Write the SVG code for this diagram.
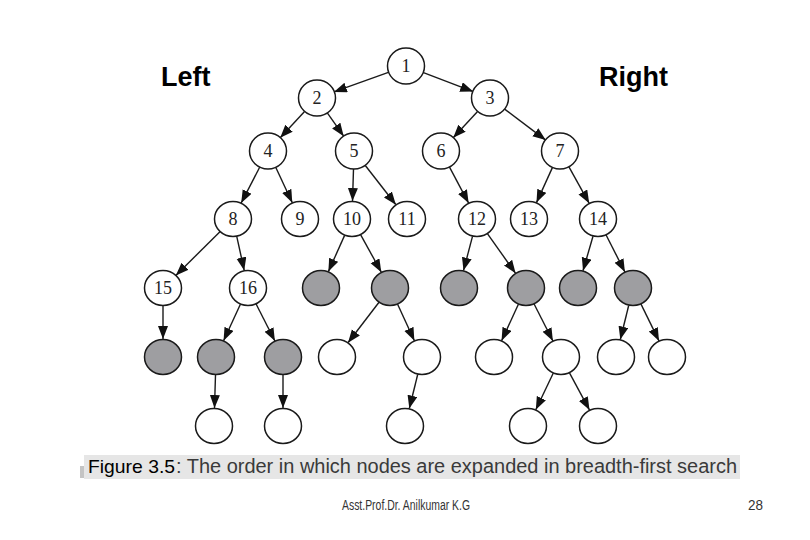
<svg xmlns="http://www.w3.org/2000/svg" width="810" height="540" viewBox="0 0 810 540">
<style>
.n ellipse{stroke:#1a1a1a;stroke-width:1.5;fill:#fff}
.n.g ellipse{fill:#9e9ea1}
.n text{font-family:"Liberation Serif","Times New Roman",serif;font-size:18px;fill:#222;text-anchor:middle}
#edges line{stroke:#1a1a1a;stroke-width:1.4;marker-end:url(#ah)}
.side{font-family:"Liberation Sans",Arial,sans-serif;font-weight:bold;font-size:27px;fill:#000}
.foot{font-family:"Liberation Sans",Arial,sans-serif;font-size:14px;fill:#333}
</style>
<defs>
<marker id="ah" markerUnits="userSpaceOnUse" markerWidth="14" markerHeight="11" refX="13" refY="5" orient="auto">
<path d="M0,0 L13,5 L0,10 z" fill="#111"/>
</marker>
</defs>
<rect width="810" height="540" fill="#fff"/>
<text class="side" x="161" y="86">Left</text>
<text class="side" x="599" y="86">Right</text>
<g id="edges">
<line x1="389.1" y1="72.1" x2="333.9" y2="91.9"/>
<line x1="422.8" y1="72.4" x2="473.2" y2="91.6"/>
<line x1="304.8" y1="111.2" x2="280.2" y2="137.8"/>
<line x1="327.3" y1="112.8" x2="343.7" y2="136.2"/>
<line x1="477.8" y1="111.2" x2="453.2" y2="137.8"/>
<line x1="504.3" y1="108.9" x2="545.7" y2="140.1"/>
<line x1="259.8" y1="167.0" x2="241.2" y2="203.0"/>
<line x1="275.7" y1="167.3" x2="292.3" y2="202.7"/>
<line x1="353.5" y1="169" x2="352.5" y2="201"/>
<line x1="365.1" y1="165.2" x2="395.9" y2="204.8"/>
<line x1="449.4" y1="166.9" x2="468.6" y2="203.1"/>
<line x1="552.5" y1="167.4" x2="536.5" y2="202.6"/>
<line x1="568.8" y1="166.7" x2="589.2" y2="203.3"/>
<line x1="220.2" y1="231.6" x2="175.8" y2="275.4"/>
<line x1="236.8" y1="236.6" x2="244.2" y2="270.4"/>
<line x1="344.6" y1="235.4" x2="328.4" y2="271.6"/>
<line x1="360.7" y1="234.8" x2="381.3" y2="272.2"/>
<line x1="472.5" y1="236.4" x2="463.5" y2="270.6"/>
<line x1="487.4" y1="233.7" x2="515.6" y2="273.3"/>
<line x1="593" y1="236.3" x2="583" y2="270.7"/>
<line x1="606.1" y1="235.0" x2="624.9" y2="272.0"/>
<line x1="163" y1="306" x2="163" y2="339"/>
<line x1="240.4" y1="304.3" x2="223.6" y2="340.7"/>
<line x1="256.1" y1="304.0" x2="274.9" y2="341.0"/>
<line x1="379" y1="302.3" x2="348" y2="342.7"/>
<line x1="397.6" y1="304.3" x2="414.4" y2="340.7"/>
<line x1="518.4" y1="304.3" x2="501.6" y2="340.7"/>
<line x1="534.1" y1="304.0" x2="552.9" y2="341.0"/>
<line x1="628.7" y1="305.5" x2="620.3" y2="339.5"/>
<line x1="641" y1="304.1" x2="659" y2="340.9"/>
<line x1="215.5" y1="375" x2="214.5" y2="408"/>
<line x1="283" y1="375" x2="283" y2="408"/>
<line x1="417.7" y1="374.5" x2="409.3" y2="408.5"/>
<line x1="553.2" y1="373.2" x2="535.8" y2="409.8"/>
<line x1="569.5" y1="372.9" x2="589.5" y2="410.1"/>
</g>
<g id="n1" class="n"><ellipse cx="406" cy="66" rx="18.5" ry="18"/><text x="406" y="72">1</text></g>
<g id="n2" class="n"><ellipse cx="317" cy="98" rx="18.5" ry="18"/><text x="317" y="104">2</text></g>
<g id="n3" class="n"><ellipse cx="490" cy="98" rx="18.5" ry="18"/><text x="490" y="104">3</text></g>
<g id="n4" class="n"><ellipse cx="268" cy="151" rx="18.5" ry="18"/><text x="268" y="157">4</text></g>
<g id="n5" class="n"><ellipse cx="354" cy="151" rx="18.5" ry="18"/><text x="354" y="157">5</text></g>
<g id="n6" class="n"><ellipse cx="441" cy="151" rx="18.5" ry="18"/><text x="441" y="157">6</text></g>
<g id="n7" class="n"><ellipse cx="560" cy="151" rx="18.5" ry="18"/><text x="560" y="157">7</text></g>
<g id="n8" class="n"><ellipse cx="233" cy="219" rx="18.5" ry="17.5"/><text x="233" y="225">8</text></g>
<g id="n9" class="n"><ellipse cx="300" cy="219" rx="18.5" ry="17.5"/><text x="300" y="225">9</text></g>
<g id="n10" class="n"><ellipse cx="352" cy="219" rx="18.5" ry="17.5"/><text x="352" y="225">10</text></g>
<g id="n11" class="n"><ellipse cx="407" cy="219" rx="18.5" ry="17.5"/><text x="407" y="225">11</text></g>
<g id="n12" class="n"><ellipse cx="477" cy="219" rx="18.5" ry="17.5"/><text x="477" y="225">12</text></g>
<g id="n13" class="n"><ellipse cx="529" cy="219" rx="18.5" ry="17.5"/><text x="529" y="225">13</text></g>
<g id="n14" class="n"><ellipse cx="598" cy="219" rx="18.5" ry="17.5"/><text x="598" y="225">14</text></g>
<g id="n15" class="n"><ellipse cx="163" cy="288" rx="18.5" ry="17.5"/><text x="163" y="294">15</text></g>
<g id="n16" class="n"><ellipse cx="248" cy="288" rx="18.5" ry="17.5"/><text x="248" y="294">16</text></g>
<g id="g1" class="n g"><ellipse cx="321" cy="288" rx="18.5" ry="17.5"/></g>
<g id="g2" class="n g"><ellipse cx="390" cy="288" rx="18.5" ry="17.5"/></g>
<g id="g3" class="n g"><ellipse cx="459" cy="288" rx="18.5" ry="17.5"/></g>
<g id="g4" class="n g"><ellipse cx="526" cy="288" rx="18.5" ry="17.5"/></g>
<g id="g5" class="n g"><ellipse cx="578" cy="288" rx="18.5" ry="17.5"/></g>
<g id="g6" class="n g"><ellipse cx="633" cy="288" rx="18.5" ry="17.5"/></g>
<g id="g7" class="n g"><ellipse cx="163" cy="357" rx="18.5" ry="17.5"/></g>
<g id="g8" class="n g"><ellipse cx="216" cy="357" rx="18.5" ry="17.5"/></g>
<g id="g9" class="n g"><ellipse cx="283" cy="357" rx="18.5" ry="17.5"/></g>
<g id="w1" class="n"><ellipse cx="337" cy="357" rx="18.5" ry="17.5"/></g>
<g id="w2" class="n"><ellipse cx="422" cy="357" rx="18.5" ry="17.5"/></g>
<g id="w3" class="n"><ellipse cx="494" cy="357" rx="18.5" ry="17.5"/></g>
<g id="w4" class="n"><ellipse cx="561" cy="357" rx="18.5" ry="17.5"/></g>
<g id="w5" class="n"><ellipse cx="616" cy="357" rx="18.5" ry="17.5"/></g>
<g id="w6" class="n"><ellipse cx="667" cy="357" rx="18.5" ry="17.5"/></g>
<g id="w7" class="n"><ellipse cx="214" cy="426" rx="18.5" ry="17.5"/></g>
<g id="w8" class="n"><ellipse cx="283" cy="426" rx="18.5" ry="17.5"/></g>
<g id="w9" class="n"><ellipse cx="405" cy="426" rx="18.5" ry="17.5"/></g>
<g id="w10" class="n"><ellipse cx="528" cy="426" rx="18.5" ry="17.5"/></g>
<g id="w11" class="n"><ellipse cx="598" cy="426" rx="18.5" ry="17.5"/></g>
<g id="caption">
<rect x="80" y="466" width="5" height="12" fill="#c4c4c4"/>
<rect x="84" y="455" width="656" height="24" fill="#e6e6e6"/>
<text x="88" y="473" font-family="'Liberation Sans',Arial,sans-serif" font-size="19" fill="#000" textLength="87" lengthAdjust="spacingAndGlyphs">Figure 3.5</text>
<text x="176" y="473" font-family="'Liberation Sans',Arial,sans-serif" font-size="20" fill="#3a3a3a" textLength="561" lengthAdjust="spacingAndGlyphs">: The order in which nodes are expanded in breadth-first search</text>
</g>
<text class="foot" x="342" y="510" textLength="128" lengthAdjust="spacingAndGlyphs">Asst.Prof.Dr. Anilkumar K.G</text>
<text class="foot" x="748" y="510" textLength="15" lengthAdjust="spacingAndGlyphs">28</text>
</svg>
